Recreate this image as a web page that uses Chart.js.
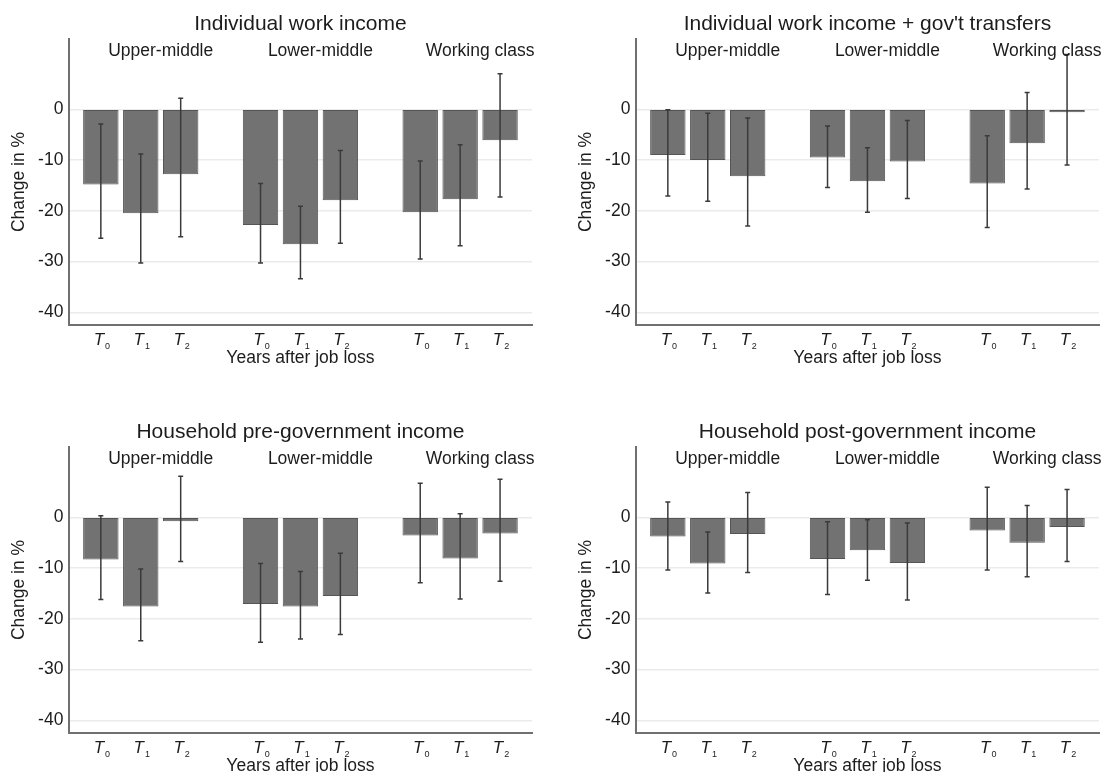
<!DOCTYPE html>
<html>
<head>
<meta charset="utf-8">
<script src="https://cdn.jsdelivr.net/npm/chart.js@4.4.0/dist/chart.umd.min.js"></script>
<style>
  html, body { margin: 0; padding: 0; background: #fff; overflow: hidden; }
  body { width: 1104px; height: 772px; position: relative; }
  canvas { position: absolute; }
</style>
</head>
<body>
<canvas id="c1" width="567" height="386" style="left:0;top:0"></canvas>
<canvas id="c2" width="567" height="386" style="left:567px;top:0"></canvas>
<canvas id="c3" width="567" height="386" style="left:0;top:408px"></canvas>
<canvas id="c4" width="567" height="386" style="left:567px;top:408px"></canvas>
<script>
// groups and bar positions (an empty slot between groups)
const classes = ['Upper-middle', 'Lower-middle', 'Working class'];
const periods = ['0', '1', '2'];          // T subscripts
const xPos = [0, 1, 2, 4, 5, 6, 8, 9, 10];
const classPos = [1.5, 5.5, 9.5];
const yTicks = [0, -10, -20, -30, -40];

// Individual work income
const workMean = [-14.8, -20.5, -12.8, -22.8, -26.6, -17.9, -20.3, -17.7, -6.1];
const workLo   = [-25.4, -30.3, -25.1, -30.3, -33.4, -26.4, -29.5, -26.9, -17.3];
const workHi   = [-2.9, -8.8, 2.2, -14.6, -19.1, -8.1, -10.2, -7.0, 7.0];

// Individual work income + gov't transfers
const transMean = [-9.0, -10.0, -13.2, -9.5, -14.2, -10.3, -14.6, -6.7, -0.6];
const transLo   = [-17.1, -18.1, -23.0, -15.4, -20.3, -17.6, -23.3, -15.7, -11.0];
const transHi   = [-0.1, -0.8, -1.7, -3.3, -7.6, -2.2, -5.2, 3.3, 10.8];

// Household pre-government income
const preMean = [-8.3, -17.6, -0.8, -17.1, -17.6, -15.5, -3.6, -8.1, -3.2];
const preLo   = [-16.2, -24.3, -8.7, -24.6, -24.0, -23.1, -12.9, -16.1, -12.6];
const preHi   = [0.3, -10.2, 8.1, -9.1, -10.7, -7.1, 6.7, 0.7, 7.5];

// Household post-government income
const postMean = [-3.8, -9.1, -3.3, -8.2, -6.5, -9.0, -2.6, -5.0, -1.9];
const postLo   = [-10.4, -14.9, -10.9, -15.2, -12.4, -16.3, -10.4, -11.7, -8.7];
const postHi   = [3.0, -2.9, 4.9, -0.9, -0.5, -1.1, 5.9, 2.3, 5.5];

const FONT = "'Liberation Sans', Arial, Helvetica, sans-serif";
const TEXT = '#1c1c1c';

// error bars, panel title, class labels and T ticks
const panelDecor = {
    id: 'panelDecor',
    afterDatasetsDraw(chart, args, opts) {
        const { ctx, scales: { x, y } } = chart;
        ctx.save();
        ctx.strokeStyle = '#3a3a3a';
        ctx.lineWidth = 1.5;
        opts.lo.forEach((lo, i) => {
            const px = x.getPixelForValue(xPos[i]);
            const y1 = y.getPixelForValue(lo);
            const y2 = y.getPixelForValue(opts.hi[i]);
            ctx.beginPath();
            ctx.moveTo(px, y1); ctx.lineTo(px, y2);
            ctx.moveTo(px - 2.5, y1); ctx.lineTo(px + 2.5, y1);
            ctx.moveTo(px - 2.5, y2); ctx.lineTo(px + 2.5, y2);
            ctx.stroke();
        });
        ctx.restore();
    },
    afterDraw(chart, args, opts) {
        const { ctx, chartArea: a, scales: { x } } = chart;
        ctx.save();
        ctx.fillStyle = TEXT;
        ctx.textAlign = 'center';
        ctx.textBaseline = 'middle';
        ctx.font = `21px ${FONT}`;
        ctx.fillText(opts.title, (a.left + a.right) / 2, a.top - 15);
        ctx.font = `17.5px ${FONT}`;
        classes.forEach((c, i) => ctx.fillText(c, x.getPixelForValue(classPos[i]), a.top + 12));

        ctx.textAlign = 'left';
        ctx.textBaseline = 'alphabetic';
        xPos.forEach((v, i) => {
            const sub = periods[i % 3];
            ctx.font = `italic 17px ${FONT}`;
            const tw = ctx.measureText('T').width;
            ctx.font = `9px ${FONT}`;
            const sw = ctx.measureText(sub).width;
            const left = x.getPixelForValue(v) + 1 - (tw + sw + 1) / 2;
            ctx.font = `italic 17px ${FONT}`;
            ctx.fillText('T', left, a.bottom + 20);
            ctx.font = `9px ${FONT}`;
            ctx.fillText(sub, left + tw + 1, a.bottom + 23.5);
        });
        ctx.restore();
    }
};

function makePanel(id, title, mean, lo, hi) {
    const ctx = document.getElementById(id).getContext('2d');
    return new Chart(ctx, {
        type: 'bar',
        data: {
            datasets: [{
                data: xPos.map((v, i) => ({ x: v, y: mean[i] })),
                backgroundColor: '#727272',
                borderColor: '#555555',
                borderWidth: 1,
                borderSkipped: false,
                categoryPercentage: 1,
                barPercentage: 0.887
            }]
        },
        options: {
            responsive: false,
            animation: false,
            layout: { padding: { top: 39, right: 35, left: 0, bottom: 0 } },
            scales: {
                x: {
                    type: 'linear',
                    min: -0.8,
                    max: 10.8,
                    offset: false,
                    afterBuildTicks: s => { s.ticks = xPos.map(v => ({ value: v })); },
                    afterFit: s => { s.height = 61; },
                    ticks: { display: false },
                    grid: { display: false, drawTicks: false },
                    border: { display: true, color: '#707070', width: 2 },
                    title: {
                        display: true,
                        text: 'Years after job loss',
                        color: TEXT,
                        font: { family: FONT, size: 17.5 },
                        padding: { top: 0, bottom: 17 }
                    }
                },
                y: {
                    min: -42.5,
                    max: 13.85,
                    afterBuildTicks: s => { s.ticks = yTicks.map(v => ({ value: v })); },
                    afterFit: s => { s.width = 68.9; },
                    ticks: { color: TEXT, font: { family: FONT, size: 17.5 }, padding: 5.5 },
                    grid: { color: '#ebebeb', lineWidth: 1.5, drawTicks: false },
                    border: { display: true, color: '#707070', width: 2 },
                    title: {
                        display: true,
                        text: 'Change in %',
                        color: TEXT,
                        font: { family: FONT, size: 17.5 },
                        padding: { top: 9, bottom: 0 }
                    }
                }
            },
            plugins: {
                legend: { display: false },
                tooltip: { enabled: false },
                panelDecor: { title: title, lo: lo, hi: hi }
            }
        },
        plugins: [panelDecor]
    });
}

document.addEventListener('DOMContentLoaded', function () {
    makePanel('c1', 'Individual work income', workMean, workLo, workHi);
    makePanel('c2', "Individual work income + gov't transfers", transMean, transLo, transHi);
    makePanel('c3', 'Household pre-government income', preMean, preLo, preHi);
    makePanel('c4', 'Household post-government income', postMean, postLo, postHi);
});
</script>
</body>
</html>
